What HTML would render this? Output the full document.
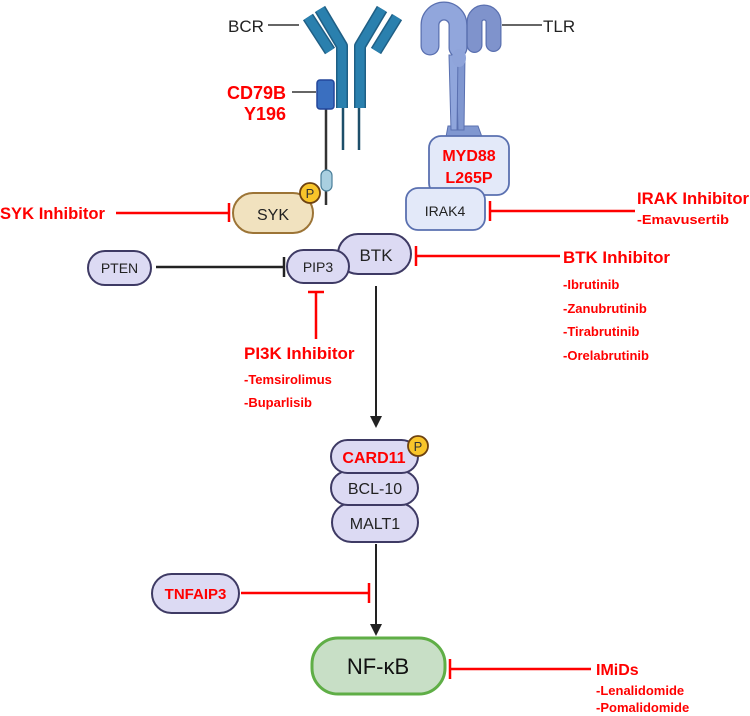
<!DOCTYPE html>
<html><head><meta charset="utf-8"><style>
html,body{margin:0;padding:0;background:#fff;}
svg{display:block;}
text{font-family:"Liberation Sans",Arial,sans-serif;}
.r{fill:#f00;font-weight:bold;}
</style></head><body>
<svg width="750" height="716" viewBox="0 0 750 716" xmlns="http://www.w3.org/2000/svg">
<!-- BCR -->
<g stroke-linecap="butt" fill="none">
<path d="M308 17 L330 51" stroke="#1f5f85" stroke-width="12"/>
<path d="M308 17 L330 51" stroke="#2a80ae" stroke-width="9"/>
<path d="M320 9 L342 46 L342 108" stroke="#1f5f85" stroke-width="12" stroke-linejoin="round"/>
<path d="M320 9 L342 46 L342 108" stroke="#2a80ae" stroke-width="9" stroke-linejoin="round"/>
<path d="M382 9 L360 46 L360 108" stroke="#1f5f85" stroke-width="12" stroke-linejoin="round"/>
<path d="M382 9 L360 46 L360 108" stroke="#2a80ae" stroke-width="9" stroke-linejoin="round"/>
<path d="M397 17 L376 51" stroke="#1f5f85" stroke-width="12"/>
<path d="M397 17 L376 51" stroke="#2a80ae" stroke-width="9"/>
<line x1="343" y1="108" x2="343" y2="150" stroke="#1d4f6a" stroke-width="2.5"/>
<line x1="359" y1="108" x2="359" y2="150" stroke="#1d4f6a" stroke-width="2.5"/>
</g>
<line x1="268" y1="25" x2="299" y2="25" stroke="#333" stroke-width="1.5"/>
<text x="228" y="32" font-size="17" fill="#222">BCR</text>
<!-- CD79B -->
<line x1="326" y1="108" x2="326" y2="205" stroke="#333" stroke-width="2.5"/>
<rect x="317" y="80" width="17" height="29" rx="3" fill="#3a6fc0" stroke="#23469a" stroke-width="1.5"/>
<line x1="292" y1="92" x2="316" y2="92" stroke="#333" stroke-width="1.5"/>
<text x="286" y="99" font-size="18" class="r" text-anchor="end">CD79B</text>
<text x="286" y="120" font-size="18" class="r" text-anchor="end">Y196</text>
<rect x="321" y="170" width="11" height="21" rx="5.5" fill="#a9cfe0" stroke="#4a7f9a" stroke-width="1.2"/>
<!-- TLR -->
<g>
<path d="M448 126 L478 126 L482 137 L446 137 Z" fill="#8097d0" stroke="#5a70b0" stroke-width="1"/>
<path d="M456 55 L465 55 L464 130 L458 130 Z" fill="#8097d0" stroke="#5a70b0" stroke-width="1"/>
<path d="M449 55 L458 55 L457 130 L451 130 Z" fill="#90a6dc" stroke="#5a70b0" stroke-width="1"/>
<path d="M474.5 45 L474.5 22 A9.5 9.5 0 0 1 493.5 22 L493.5 44" fill="none" stroke="#5a70b0" stroke-width="16" stroke-linecap="round"/>
<path d="M474.5 45 L474.5 22 A9.5 9.5 0 0 1 493.5 22 L493.5 44" fill="none" stroke="#7f93cc" stroke-width="13.5" stroke-linecap="round"/>
<path d="M430 46 L430 25 A14 14 0 0 1 458 25 L458 48" fill="none" stroke="#5a70b0" stroke-width="19" stroke-linecap="round"/>
<path d="M430 46 L430 25 A14 14 0 0 1 458 25 L458 48" fill="none" stroke="#91a6dc" stroke-width="16.5" stroke-linecap="round"/>
<ellipse cx="459" cy="58" rx="7" ry="9" fill="#8fa4da"/>
</g>
<line x1="502" y1="25" x2="542" y2="25" stroke="#333" stroke-width="1.5"/>
<text x="543" y="32" font-size="17" fill="#222">TLR</text>
<!-- MYD88 / IRAK4 -->
<rect x="429" y="136" width="80" height="59" rx="12" fill="#e3e9f9" stroke="#5a70b0" stroke-width="1.8"/>
<text x="469" y="161" font-size="16" class="r" text-anchor="middle">MYD88</text>
<text x="469" y="183" font-size="16" class="r" text-anchor="middle">L265P</text>
<rect x="406" y="188" width="79" height="42" rx="12" fill="#e3e9f9" stroke="#5a70b0" stroke-width="1.8"/>
<text x="445" y="216" font-size="14" fill="#222" text-anchor="middle">IRAK4</text>
<!-- IRAK inhibitor -->
<line x1="489" y1="211" x2="635" y2="211" stroke="#f00" stroke-width="2.5"/>
<line x1="490" y1="201" x2="490" y2="221" stroke="#f00" stroke-width="2.5"/>
<text x="637" y="204" font-size="17" class="r" textLength="112" lengthAdjust="spacingAndGlyphs">IRAK Inhibitor</text>
<text x="637" y="224" font-size="13" class="r" textLength="92" lengthAdjust="spacingAndGlyphs">-Emavusertib</text>
<!-- SYK -->
<rect x="233" y="193" width="80" height="40" rx="20" fill="#f1e2bf" stroke="#9c7436" stroke-width="2"/>
<text x="273" y="220" font-size="16" fill="#222" text-anchor="middle">SYK</text>
<circle cx="310" cy="193" r="10" fill="#f9c52a" stroke="#6e4210" stroke-width="1.8"/>
<text x="310" y="198" font-size="13" fill="#333" text-anchor="middle">P</text>
<line x1="116" y1="213" x2="228" y2="213" stroke="#f00" stroke-width="2.5"/>
<line x1="229" y1="203" x2="229" y2="222" stroke="#f00" stroke-width="2.5"/>
<text x="0" y="219" font-size="17" class="r" textLength="105" lengthAdjust="spacingAndGlyphs">SYK Inhibitor</text>
<!-- BTK / PIP3 / PTEN -->
<rect x="338" y="234" width="73" height="40" rx="20" fill="#dcdaf3" stroke="#3e3a64" stroke-width="2"/>
<text x="376" y="261" font-size="17" fill="#222" text-anchor="middle">BTK</text>
<rect x="287" y="250" width="62" height="33" rx="16.5" fill="#dcdaf3" stroke="#3e3a64" stroke-width="2"/>
<text x="318" y="272" font-size="14" fill="#222" text-anchor="middle">PIP3</text>
<rect x="88" y="251" width="63" height="34" rx="17" fill="#dcdaf3" stroke="#3e3a64" stroke-width="2"/>
<text x="119.5" y="273" font-size="14" fill="#222" text-anchor="middle">PTEN</text>
<line x1="156" y1="267" x2="283" y2="267" stroke="#222" stroke-width="2.5"/>
<line x1="284" y1="257" x2="284" y2="277" stroke="#222" stroke-width="2.5"/>
<!-- BTK inhibitor -->
<line x1="415" y1="256" x2="560" y2="256" stroke="#f00" stroke-width="2.5"/>
<line x1="416" y1="246" x2="416" y2="266" stroke="#f00" stroke-width="2.5"/>
<text x="563" y="263" font-size="17" class="r" textLength="107" lengthAdjust="spacingAndGlyphs">BTK Inhibitor</text>
<text x="563" y="289" font-size="13" class="r">-Ibrutinib</text>
<text x="563" y="313" font-size="13" class="r">-Zanubrutinib</text>
<text x="563" y="336" font-size="13" class="r">-Tirabrutinib</text>
<text x="563" y="360" font-size="13" class="r">-Orelabrutinib</text>
<!-- PI3K -->
<line x1="316" y1="292" x2="316" y2="339" stroke="#f00" stroke-width="2.5"/>
<line x1="308" y1="292" x2="324" y2="292" stroke="#f00" stroke-width="2.5"/>
<text x="244" y="359" font-size="17" class="r">PI3K Inhibitor</text>
<text x="244" y="384" font-size="13" class="r">-Temsirolimus</text>
<text x="244" y="407" font-size="13" class="r">-Buparlisib</text>
<!-- arrow BTK -> CARD11 -->
<line x1="376" y1="286" x2="376" y2="418" stroke="#222" stroke-width="2"/>
<path d="M370 416 L382 416 L376 428 Z" fill="#222"/>
<!-- CBM complex -->
<rect x="332" y="503" width="86" height="39" rx="19.5" fill="#dcdaf3" stroke="#3e3a64" stroke-width="2"/>
<text x="375" y="529" font-size="16" fill="#222" text-anchor="middle">MALT1</text>
<rect x="331" y="471" width="87" height="34" rx="17" fill="#dcdaf3" stroke="#3e3a64" stroke-width="2"/>
<text x="375" y="494" font-size="16" fill="#222" text-anchor="middle">BCL-10</text>
<rect x="331" y="440" width="87" height="33" rx="16.5" fill="#dcdaf3" stroke="#3e3a64" stroke-width="2"/>
<text x="374" y="463" font-size="16" class="r" text-anchor="middle">CARD11</text>
<circle cx="418" cy="446" r="10" fill="#f9c52a" stroke="#6e4210" stroke-width="1.8"/>
<text x="418" y="451" font-size="13" fill="#333" text-anchor="middle">P</text>
<!-- arrow to NF-kB -->
<line x1="376" y1="544" x2="376" y2="626" stroke="#222" stroke-width="2"/>
<path d="M370 624 L382 624 L376 636 Z" fill="#222"/>
<!-- TNFAIP3 -->
<rect x="152" y="574" width="87" height="39" rx="19.5" fill="#dcdaf3" stroke="#3e3a64" stroke-width="2"/>
<text x="195.5" y="599" font-size="15" class="r" text-anchor="middle">TNFAIP3</text>
<line x1="241" y1="593" x2="368" y2="593" stroke="#f00" stroke-width="2.5"/>
<line x1="369" y1="583" x2="369" y2="603" stroke="#f00" stroke-width="2.5"/>
<!-- NF-kB -->
<rect x="312" y="638" width="133" height="56" rx="26" fill="#c8dfc6" stroke="#5fae46" stroke-width="3"/>
<text x="378" y="674" font-size="22" fill="#111" text-anchor="middle">NF-κB</text>
<!-- IMiDs -->
<line x1="450" y1="669" x2="591" y2="669" stroke="#f00" stroke-width="2.5"/>
<line x1="450" y1="659" x2="450" y2="679" stroke="#f00" stroke-width="2.5"/>
<text x="596" y="675" font-size="16" class="r">IMiDs</text>
<text x="596" y="695" font-size="13" class="r">-Lenalidomide</text>
<text x="596" y="712" font-size="13" class="r">-Pomalidomide</text>
</svg>
</body></html>
